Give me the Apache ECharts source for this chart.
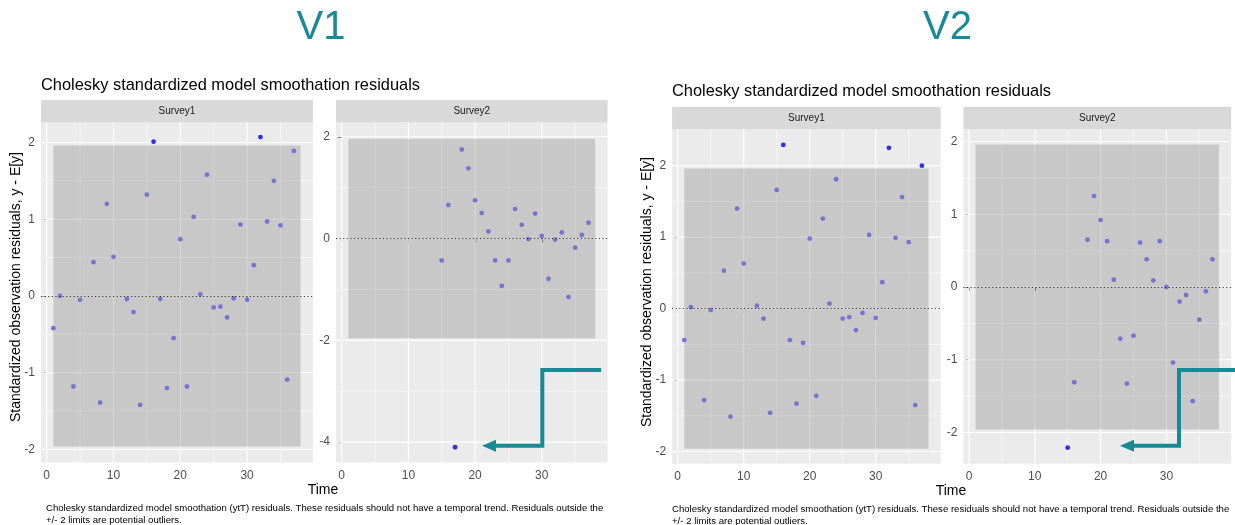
<!DOCTYPE html>
<html><head><meta charset="utf-8">
<script src="https://cdn.jsdelivr.net/npm/echarts@6/dist/echarts.min.js"></script>
<style>html,body{margin:0;padding:0;background:#fff}#c{width:1235px;height:525px}</style>
</head><body><div id="c"></div>
<script>
// ---- data ----
const timesS1 = [1,2,4,5,7,8,9,10,12,13,14,15,16,17,18,19,20,21,22,23,24,25,26,27,28,29,30,31,32,33,34,35,36,37];
const v1Survey1 = [-0.42,0.00,-1.18,-0.05,0.44,-1.39,1.20,0.51,-0.04,-0.21,-1.42,1.32,2.01,-0.04,-1.20,-0.55,0.74,-1.18,1.03,0.02,1.58,-0.15,-0.14,-0.28,-0.03,0.93,-0.05,0.40,2.07,0.97,1.50,0.92,-1.09,1.89];
const v1TimesS2 = [15,16,17,18,19,20,21,22,23,24,25,26,27,28,29,30,31,32,33,34,35,36,37];
const v1Survey2 = [-0.43,0.66,-4.10,1.75,1.38,0.75,0.50,0.14,-0.43,-0.93,-0.43,0.58,0.27,-0.01,0.49,0.05,-0.79,-0.02,0.12,-1.15,-0.18,0.07,0.31];
const v2Survey1 = [-0.44,0.02,-1.28,-0.02,0.53,-1.51,1.40,0.63,0.04,-0.14,-1.46,1.66,2.29,-0.44,-1.33,-0.48,0.98,-1.22,1.26,0.07,1.81,-0.14,-0.12,-0.30,-0.06,1.03,-0.13,0.37,2.25,0.99,1.56,0.93,-1.35,2.00];
const v2TimesS2 = [15,16,18,19,20,21,22,23,24,25,26,27,28,29,30,31,32,33,34,35,36,37];
const v2Survey2 = [-2.21,-1.31,0.65,1.25,0.92,0.63,0.10,-0.71,-1.33,-0.67,0.61,0.38,0.09,0.63,0.00,-1.04,-0.20,-0.11,-1.57,-0.45,-0.06,0.38];
const bandX = [1, 38];
const bandY = [-1.96, 1.96];
const xTicks = [0,10,20,30];
const xMinor = [5,15,25,35];
const yTicksUnit = [-2,-1,0,1,2];
const yMinorUnit = [-1.5,-0.5,0.5,1.5];
const yTicksWide = [-4,-2,0,2];
const yMinorWide = [-3,-1,1];
const stripLabels = ['Survey1','Survey2','Survey1','Survey2'];
const headings = ['V1','V2'];
const plotTitle = 'Cholesky standardized model smoothation residuals';
const yTitle = 'Standardized observation residuals, y - E[y]';
const xTitle = 'Time';
const captionLines = ['Cholesky standardized model smoothation (ytT) residuals. These residuals should not have a temporal trend. Residuals outside the','+/- 2 limits are potential outliers.'];

// ---- layout ----
const FONT = 'Liberation Sans, Arial, sans-serif';
const TEAL = '#178a96';
const panels = [
  {left:41,   top:122.5, width:271.9, height:340,   xr:[-0.85,39.85], yr:[-2.17,2.26], yt:yTicksUnit, ym:yMinorUnit, x:timesS1,  y:v1Survey1},
  {left:336,  top:122.5, width:271.5, height:340,   xr:[-0.85,39.85], yr:[-4.40,2.28], yt:yTicksWide, ym:yMinorWide, x:v1TimesS2,y:v1Survey2},
  {left:672.1,top:129.2, width:268.6, height:334.5, xr:[-0.85,39.85], yr:[-2.17,2.51], yt:yTicksUnit, ym:yMinorUnit, x:timesS1,  y:v2Survey1},
  {left:963.4,top:129.2, width:267.8, height:334.5, xr:[-0.85,39.85], yr:[-2.43,2.17], yt:yTicksUnit, ym:yMinorUnit, x:v2TimesS2,y:v2Survey2}
];

const grid=[], xAxis=[], yAxis=[], series=[], graphic=[];
panels.forEach((p,i)=>{
  grid.push({left:p.left, top:p.top, width:p.width, height:p.height, show:true, backgroundColor:'#EBEBEB', borderWidth:0});
  xAxis.push({gridIndex:i, type:'value', min:p.xr[0], max:p.xr[1],
    axisLine:{show:false}, splitLine:{show:false},
    axisTick:{show:true, length:4, customValues:xTicks, lineStyle:{color:'#333', width:1}},
    axisLabel:{customValues:xTicks, color:'#4D4D4D', fontSize:12, margin:7, fontFamily:FONT}});
  yAxis.push({gridIndex:i, type:'value', min:p.yr[0], max:p.yr[1],
    axisLine:{show:false}, splitLine:{show:false},
    axisTick:{show:true, length:4, customValues:p.yt, lineStyle:{color:'#333', width:1}},
    axisLabel:{customValues:p.yt, color:'#4D4D4D', fontSize:12, margin:6, fontFamily:FONT}});
  // grid lines (custom series through scales)
  const gl = [];
  xTicks.forEach(v=>gl.push([v,0,1])); xMinor.forEach(v=>gl.push([v,0,0]));
  p.yt.forEach(v=>gl.push([v,1,1])); p.ym.forEach(v=>gl.push([v,1,0]));
  const xm=(p.xr[0]+p.xr[1])/2, ymid=(p.yr[0]+p.yr[1])/2;
  series.push({type:'custom', xAxisIndex:i, yAxisIndex:i, z:1, silent:true, data:gl, clip:true,
    encode:{x:-1,y:-1},
    renderItem:(params, api)=>{
      const cs = params.coordSys;
      const v=api.value(0), horiz=api.value(1), major=api.value(2);
      const w = major ? 1.1 : 0.55;
      if(!horiz){ const px=api.coord([v,ymid])[0];
        return {type:'line', shape:{x1:px,y1:cs.y,x2:px,y2:cs.y+cs.height}, style:{stroke:'#FFFFFF', lineWidth:w}}; }
      const py=api.coord([xm,v])[1];
      return {type:'line', shape:{x1:cs.x,y1:py,x2:cs.x+cs.width,y2:py}, style:{stroke:'#FFFFFF', lineWidth:w}};
    }});
  // points
  series.push({type:'scatter', xAxisIndex:i, yAxisIndex:i, z:2, symbolSize:4.8,
    data:p.x.map((t,k)=>[t,p.y[k]]),
    itemStyle:{color:(d)=> (Math.abs(d.value[1])>bandY[1]) ? '#0000E8' : 'rgba(20,0,255,0.68)'},
    markLine:{silent:true, symbol:'none', label:{show:false}, lineStyle:{color:'#333', type:[1.2,2.4], width:1},
      data:[{yAxis:0}], animation:false}
  });
  // +/- limits band, drawn above points
  series.push({type:'custom', xAxisIndex:i, yAxisIndex:i, z:3, silent:true, data:[[bandX[0],bandY[0],bandX[1],bandY[1]]],
    encode:{x:[0,2], y:[1,3]},
    renderItem:(params, api)=>{
      const a=api.coord([api.value(0),api.value(3)]), b=api.coord([api.value(2),api.value(1)]);
      return {type:'rect', shape:{x:a[0],y:a[1],width:b[0]-a[0],height:b[1]-a[1]}, style:{fill:'rgba(127,127,127,0.32)'}};
    }});
  // strip
  graphic.push({type:'rect', shape:{x:p.left, y:p.top-22.5, width:p.width, height:22.5}, style:{fill:'#D9D9D9'}, silent:true});
  graphic.push({type:'text', x:p.left+p.width/2, y:p.top-11.2, style:{text:stripLabels[i], font:'10px '+FONT, fill:'#1A1A1A', textAlign:'center', textVerticalAlign:'middle'}});
});

// headings & texts
const blocks = [
  {hx:321, title:[41,85], ytx:[16,287], time:[323,490], cap:[46,508]},
  {hx:947.5, title:[672,91], ytx:[647,292], time:[951,491], cap:[672,509]}
];
blocks.forEach((b,i)=>{
  graphic.push({type:'text', x:b.hx, y:28, style:{text:headings[i], font:'40px '+FONT, fill:TEAL, textAlign:'center', textVerticalAlign:'middle'}});
  graphic.push({type:'text', x:b.title[0], y:b.title[1], style:{text:plotTitle, font:'16.4px '+FONT, fill:'#000', textAlign:'left', textVerticalAlign:'middle'}});
  graphic.push({type:'text', x:b.ytx[0], y:b.ytx[1], rotation:Math.PI/2, style:{text:yTitle, font:'14px '+FONT, fill:'#000', textAlign:'center', textVerticalAlign:'middle'}});
  graphic.push({type:'text', x:b.time[0], y:b.time[1], style:{text:xTitle, font:'14px '+FONT, fill:'#000', textAlign:'center', textVerticalAlign:'middle'}});
  captionLines.forEach((t,k)=>graphic.push({type:'text', x:b.cap[0], y:b.cap[1]+k*12, style:{text:t, font:'9.6px '+FONT, fill:'#000', textAlign:'left', textVerticalAlign:'middle'}}));
});

// arrows (annotations)
const arrows = [
  {pts:[[601,370],[542.3,370],[542.3,445.7],[494,445.7]], tip:[482,445.7]},
  {pts:[[1236,370],[1179,370],[1179,445.7],[1132,445.7]], tip:[1120,445.7]}
];
arrows.forEach(a=>{
  graphic.push({type:'polyline', z:100, shape:{points:a.pts}, style:{stroke:TEAL, lineWidth:4, fill:null, lineJoin:'miter'}});
  graphic.push({type:'polygon', z:100, shape:{points:[a.tip,[a.tip[0]+14,a.tip[1]-6],[a.tip[0]+14,a.tip[1]+6]]}, style:{fill:TEAL}});
});

const chart = echarts.init(document.getElementById('c'), null, {renderer:'canvas'});
chart.setOption({animation:false, backgroundColor:'#FFFFFF', grid, xAxis, yAxis, series, graphic});
</script></body></html>
